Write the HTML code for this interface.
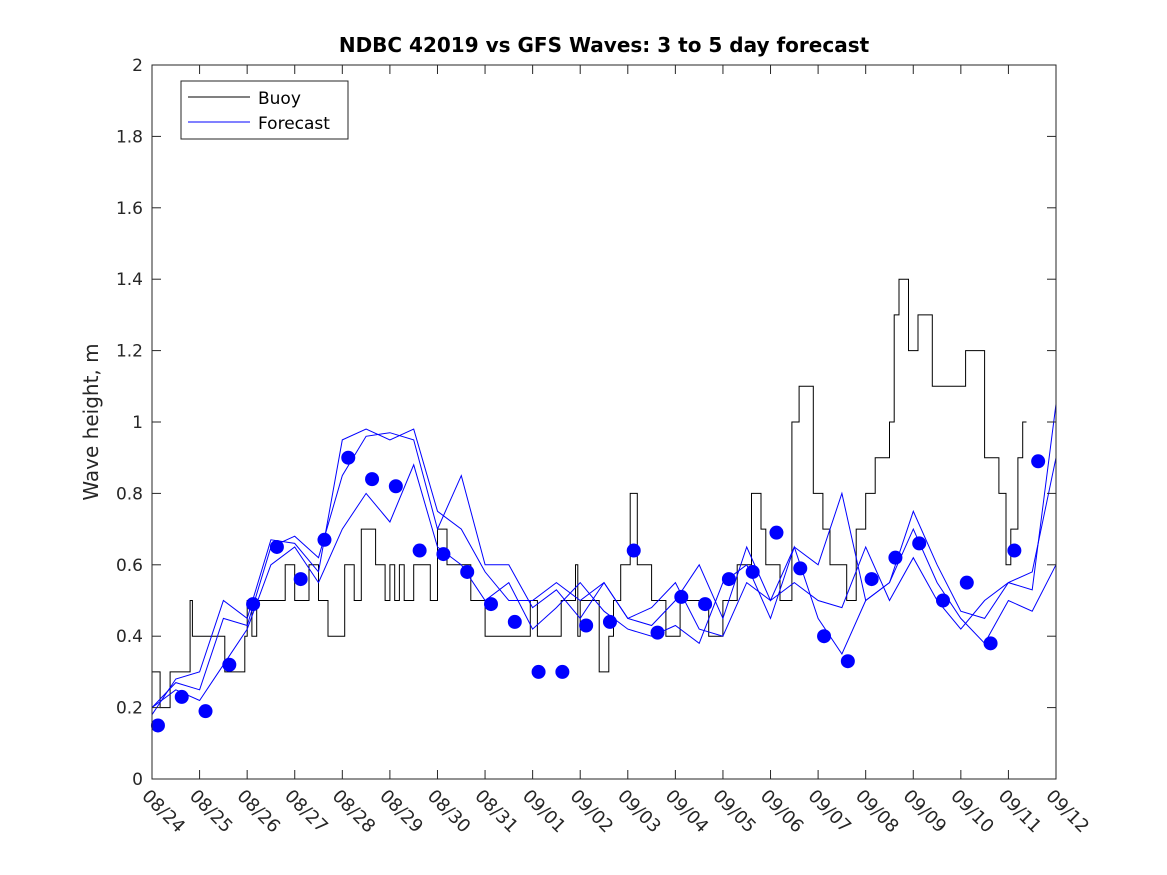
<!DOCTYPE html>
<html><head><meta charset="utf-8">
<style>html,body{margin:0;padding:0;background:#fff;}svg{display:block;font-family:"DejaVu Sans","Liberation Sans",sans-serif;}</style>
</head><body>
<svg id="chart" width="1167" height="875" viewBox="0 0 1167 875" xmlns="http://www.w3.org/2000/svg">
<rect x="0" y="0" width="1167" height="875" fill="#fff"/>
<text x="604" y="52" font-size="20" font-weight="bold" text-anchor="middle" fill="#000">NDBC 42019 vs GFS Waves: 3 to 5 day forecast</text>
<text transform="translate(98,422) rotate(-90)" font-size="20" text-anchor="middle" fill="#262626">Wave height, m</text>
<g id="plot"></g>
<g id="axes"></g>
<g id="legend">
<rect x="181" y="81" width="167" height="58" fill="#fff" stroke="#262626" stroke-width="1"/>
<line x1="188" y1="97" x2="250" y2="97" stroke="#000" stroke-width="1"/>
<text x="258" y="104" font-size="17" fill="#000">Buoy</text>
<line x1="188" y1="122" x2="250" y2="122" stroke="#0000ff" stroke-width="1"/>
<text x="258" y="129" font-size="17" fill="#000">Forecast</text>
</g>
</svg>
<script>
const xTickLabels=["08/24","08/25","08/26","08/27","08/28","08/29","08/30","08/31","09/01","09/02","09/03","09/04","09/05","09/06","09/07","09/08","09/09","09/10","09/11","09/12"];
const yTicks=[0,0.2,0.4,0.6,0.8,1,1.2,1.4,1.6,1.8,2];
const buoyDays=[0,0.17,0.38,0.8,0.85,1.53,1.95,2.0,2.1,2.2,2.4,2.8,3.0,3.3,3.5,3.7,4.05,4.25,4.4,4.7,4.9,5.0,5.1,5.2,5.3,5.5,5.85,6.0,6.2,6.4,6.7,7.0,7.95,8.1,8.3,8.6,8.9,8.95,9.0,9.4,9.6,9.7,9.85,10.05,10.2,10.5,10.8,11.1,11.7,12.0,12.3,12.6,12.8,12.9,13.2,13.45,13.6,13.9,14.1,14.25,14.6,14.8,15.0,15.2,15.5,15.6,15.7,15.9,16.1,16.4,17.1,17.5,17.8,17.95,18.05,18.2,18.3];
const buoyVals=[0.3,0.2,0.3,0.5,0.4,0.3,0.4,0.5,0.4,0.5,0.5,0.6,0.5,0.6,0.5,0.4,0.6,0.5,0.7,0.6,0.5,0.6,0.5,0.6,0.5,0.6,0.5,0.7,0.6,0.6,0.5,0.4,0.5,0.4,0.4,0.5,0.6,0.4,0.5,0.3,0.4,0.5,0.6,0.8,0.6,0.5,0.4,0.5,0.4,0.5,0.6,0.8,0.7,0.6,0.5,1.0,1.1,0.8,0.7,0.6,0.5,0.7,0.8,0.9,1.0,1.3,1.4,1.2,1.3,1.1,1.2,0.9,0.8,0.6,0.7,0.9,1.0];
const fcDays=[0,0.5,1,1.5,2,2.5,3,3.5,4,4.5,5,5.5,6,6.5,7,7.5,8,8.5,9,9.5,10,10.5,11,11.5,12,12.5,13,13.5,14,14.5,15,15.5,16,16.5,17,17.5,18,18.5,19];
const forecastA=[0.2,0.27,0.25,0.45,0.43,0.65,0.68,0.62,0.85,0.96,0.97,0.95,0.7,0.85,0.6,0.6,0.48,0.53,0.45,0.55,0.45,0.43,0.5,0.6,0.45,0.65,0.5,0.65,0.6,0.8,0.5,0.55,0.75,0.6,0.47,0.45,0.55,0.53,1.05];
const forecastB=[0.2,0.25,0.22,0.32,0.42,0.6,0.65,0.55,0.7,0.8,0.72,0.88,0.65,0.6,0.5,0.55,0.42,0.48,0.55,0.47,0.42,0.4,0.43,0.38,0.55,0.6,0.45,0.65,0.45,0.35,0.5,0.55,0.7,0.55,0.45,0.38,0.5,0.47,0.6];
const forecastC=[0.18,0.28,0.3,0.5,0.45,0.67,0.66,0.58,0.95,0.98,0.95,0.98,0.75,0.7,0.58,0.5,0.5,0.55,0.5,0.55,0.45,0.48,0.55,0.42,0.4,0.55,0.5,0.55,0.5,0.48,0.65,0.5,0.62,0.5,0.42,0.5,0.55,0.58,0.9];
const dotVals=[0.15,0.23,0.19,0.32,0.49,0.65,0.56,0.67,0.90,0.84,0.82,0.64,0.63,0.58,0.49,0.44,0.30,0.30,0.43,0.44,0.64,0.41,0.51,0.49,0.56,0.58,0.69,0.59,0.40,0.33,0.56,0.62,0.66,0.50,0.55,0.38,0.64,0.89];
const dotStart=0.125, dotStep=0.5;

const X0=152,X1=1056,Y0=779,Y1=65,DAYS=19,YMAX=2;
const xs=d=>X0+(X1-X0)*d/DAYS;
const ys=v=>Y0-(Y0-Y1)*v/YMAX;
const NS="http://www.w3.org/2000/svg";
const plot=document.getElementById('plot'), axes=document.getElementById('axes');
function mk(tag,attrs,parent){const e=document.createElementNS(NS,tag);for(const k in attrs)e.setAttribute(k,attrs[k]);parent.appendChild(e);return e;}

let d="";
for(let i=0;i<buoyDays.length;i++){
  const x=xs(buoyDays[i]).toFixed(1), y=ys(buoyVals[i]).toFixed(1);
  if(i===0) d+="M"+x+","+y; else d+="L"+x+","+ys(buoyVals[i-1]).toFixed(1)+"L"+x+","+y;
}
d+="L"+xs(buoyDays[buoyDays.length-1]+0.08).toFixed(1)+","+ys(buoyVals[buoyVals.length-1]).toFixed(1);
const buoy=mk('path',{d:d,fill:"none",stroke:"#000","stroke-width":1},plot);



[forecastA,forecastB,forecastC].forEach((arr,k)=>{
  const pts=arr.map((v,i)=>xs(fcDays[i]).toFixed(1)+","+ys(v).toFixed(1)).join(" ");
  const pl=mk('polyline',{points:pts,fill:"none",stroke:"#0000ff","stroke-width":1},plot);
  
  
});

dotVals.forEach((v,i)=>{
  const c=mk('circle',{cx:xs(dotStart+dotStep*i),cy:ys(v),r:7,fill:"#0000ff"},plot);
  
  
});

const fr=mk('rect',{x:X0,y:Y1,width:X1-X0,height:Y0-Y1,fill:"none",stroke:"#262626","stroke-width":1},axes);


yTicks.forEach(v=>{
  const y=ys(v);
  mk('line',{x1:X0,y1:y,x2:X0+9,y2:y,stroke:"#262626"},axes);
  mk('line',{x1:X1,y1:y,x2:X1-9,y2:y,stroke:"#262626"},axes);
  const t=mk('text',{x:X0-9,y:y+6,"font-size":17,"text-anchor":"end",fill:"#262626"},axes);
  t.textContent=String(v);
  
  
});
xTickLabels.forEach((lab,i)=>{
  const x=xs(i);
  mk('line',{x1:x,y1:Y0,x2:x,y2:Y0-9,stroke:"#262626"},axes);
  mk('line',{x1:x,y1:Y1,x2:x,y2:Y1+9,stroke:"#262626"},axes);
  const t=mk('text',{transform:"translate("+(x-11)+","+(Y0+18)+") rotate(45)","font-size":18,fill:"#262626"},axes);
  t.textContent=lab;
  
  
});
</script>
</body></html>
